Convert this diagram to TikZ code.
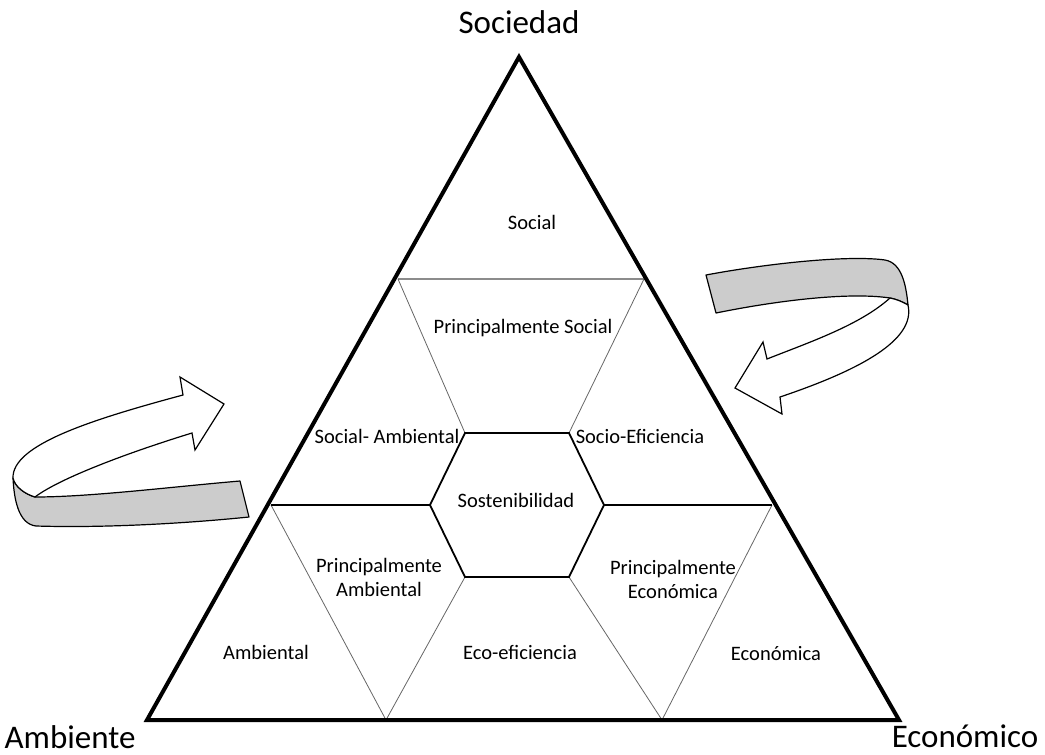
\documentclass[tikz,border=0pt]{standalone}
\usepackage{fontspec}
\setmainfont{Carlito}
\begin{document}
\begin{tikzpicture}[x=1pt,y=-1pt,
  lbl/.style={font=\fontsize{20.5}{24}\selectfont, align=center, inner sep=0pt},
  big/.style={font=\fontsize{33}{38}\selectfont, inner sep=0pt},
  tri/.style={line width=4pt, line join=miter},
  mid/.style={line width=1.8pt, black},
  light/.style={line width=1.6pt, black!45},
  thin/.style={line width=0.8pt, black!60},
  band/.style={fill=black!20, draw=black, line width=1.2pt, line join=round},
  arr/.style={fill=white, draw=black, line width=1.2pt, line join=miter}]
\path[use as bounding box] (0,0) rectangle (1045,755);
% vertices
\coordinate (A) at (519,57);
\coordinate (L) at (147,720);
\coordinate (R) at (899,720);
\coordinate (l1) at (398,279);
\coordinate (r1) at (644,279);
\coordinate (l2) at (271,505);
\coordinate (r2) at (772,505);
\coordinate (h1) at (465,433);
\coordinate (h2) at (569,433);
\coordinate (h3) at (604,505);
\coordinate (h4) at (569,577);
\coordinate (h5) at (465,577);
\coordinate (h6) at (430,505);
\coordinate (b1) at (386,720);
\coordinate (b2) at (662,720);
% inner lines
\draw[light] (l1) -- (r1);
\draw[thin] (l1) -- (h1);
\draw[thin] (r1) -- (h2);
\draw[thin] (l2) -- (b1);
\draw[thin] (r2) -- (b2);
\draw[thin] (h5) -- (b1);
\draw[thin] (h4) -- (b2);
\draw[mid] (l2) -- (h6);
\draw[mid] (h3) -- (r2);
\draw[mid, line join=miter] (h1) -- (h2) -- (h3) -- (h4) -- (h5) -- (h6) -- cycle;
% triangle
\draw[tri] (A) -- (L) -- (R) -- cycle;
% labels
\node[lbl] (social) at (532,222) {Social};
\node[lbl] (psocial) at (523,328) {Principalmente Social};
\node[lbl] (socamb) at (387,436) {Social- Ambiental};
\node[lbl] (socef) at (640,436) {Socio-Eficiencia};
\node[lbl] (sost) at (516,500) {Sostenibilidad};
\node[lbl] (pamb) at (379,577) {Principalmente\\Ambiental};
\node[lbl] (peco) at (673,579) {Principalmente\\Económica};
\node[lbl] (amb) at (266,652) {Ambiental};
\node[lbl] (ecoef) at (520,652) {Eco-eficiencia};
\node[lbl] (econ) at (776,654) {Económica};
\node[big] (soc) at (519,22) {Sociedad};
\node[big, anchor=base] (ambte) at (70,748) {Ambiente};
\node[big, anchor=base] (econo) at (965,747) {Económico};
% left curved arrow
\draw[band] (13,478) .. controls (14,498) and (18,524) .. (36,526)
  .. controls (100,528) and (180,524) .. (249,517) -- (240,481)
  .. controls (170,487) and (90,497) .. (35,497)
  .. controls (25,494) and (15,487) .. (13,478) -- cycle;
\draw[arr] (35,497) .. controls (60,478) and (130,452) .. (192,433)
  -- (195,450) -- (224,404) -- (180,377) -- (183,395)
  .. controls (90,420) and (12,445) .. (13,478)
  .. controls (15,487) and (25,494) .. (35,497) -- cycle;
% right curved arrow
\draw[band] (706,275) .. controls (770,263) and (850,255) .. (885,260)
  .. controls (902,263) and (906,285) .. (908,305)
  .. controls (903,302) and (896,299) .. (890,298)
  .. controls (850,292) and (780,300) .. (716,313) -- cycle;
\draw[arr] (890,298) .. controls (860,325) and (810,342) .. (767,359)
  -- (763,342) -- (735,388) -- (782,414) -- (780,397)
  .. controls (860,370) and (916,340) .. (908,305)
  .. controls (903,302) and (896,299) .. (890,298) -- cycle;
\end{tikzpicture}
\end{document}
